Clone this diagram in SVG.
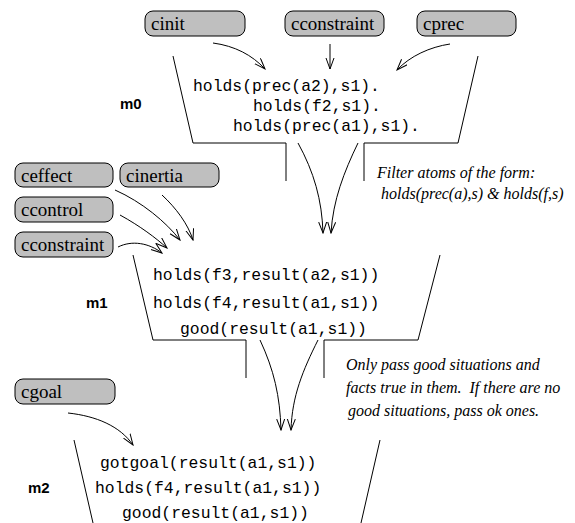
<svg xmlns="http://www.w3.org/2000/svg" width="575" height="523" viewBox="0 0 575 523">
  <defs>
    <marker id="arr" markerUnits="userSpaceOnUse" markerWidth="12" markerHeight="10" refX="11" refY="4.5" orient="auto">
      <path d="M0,0.5 L11,4.5 L0,8.5" fill="none" stroke="#000" stroke-width="1"/>
    </marker>
    <style>
      .box { fill: #bfbfbf; stroke: #000; stroke-width: 1; }
      .lbl { font-family: "Liberation Serif", "Times New Roman", serif; font-size: 19px; fill: #000; }
      .code { font-family: "Liberation Mono", "Courier New", monospace; font-size: 16.4px; fill: #000; }
      .mod { font-family: "Liberation Sans", Arial, sans-serif; font-size: 15px; font-weight: bold; fill: #000; }
      .note { font-family: "Liberation Serif", "Times New Roman", serif; font-size: 16px; font-style: italic; fill: #000; }
      .edge { fill: none; stroke: #000; stroke-width: 1; marker-end: url(#arr); }
      .wall { fill: none; stroke: #000; stroke-width: 1; }
    </style>
  </defs>

  <!-- constraint boxes -->
  <g id="cinit"><rect class="box" x="145" y="11" width="100" height="25" rx="8"/><text class="lbl" x="151" y="30">cinit</text></g>
  <g id="cconstraint0"><rect class="box" x="285" y="11" width="99" height="25" rx="8"/><text class="lbl" x="291" y="30">cconstraint</text></g>
  <g id="cprec"><rect class="box" x="417" y="11" width="99" height="25" rx="8"/><text class="lbl" x="423" y="30">cprec</text></g>

  <g id="ceffect"><rect class="box" x="15" y="163" width="98" height="24" rx="8"/><text class="lbl" x="21" y="182">ceffect</text></g>
  <g id="cinertia"><rect class="box" x="120" y="163" width="99" height="24" rx="8"/><text class="lbl" x="126" y="182">cinertia</text></g>
  <g id="ccontrol"><rect class="box" x="15" y="197" width="98" height="25" rx="8"/><text class="lbl" x="21" y="216">ccontrol</text></g>
  <g id="cconstraint1"><rect class="box" x="15" y="232" width="98" height="25" rx="8"/><text class="lbl" x="21" y="251">cconstraint</text></g>

  <g id="cgoal"><rect class="box" x="15" y="379" width="100" height="25" rx="8"/><text class="lbl" x="21" y="398">cgoal</text></g>

  <!-- module m0 -->
  <g id="m0">
    <polyline class="wall" points="173,56 193,143 286,143 286,181"/>
    <polyline class="wall" points="364,181 364,143 458,143 478,56"/>
    <text class="mod" x="120" y="109">m0</text>
    <text class="code" x="193" y="91">holds(prec(a2),s1).</text>
    <text class="code" x="253" y="111">holds(f2,s1).</text>
    <text class="code" x="233" y="131">holds(prec(a1),s1).</text>
  </g>

  <!-- module m1 -->
  <g id="m1">
    <polyline class="wall" points="133,255 153,340 246,340 246,378"/>
    <polyline class="wall" points="324,378 324,340 418,340 440,255"/>
    <text class="mod" x="86" y="308">m1</text>
    <text class="code" x="153" y="280">holds(f3,result(a2,s1))</text>
    <text class="code" x="153" y="308">holds(f4,result(a1,s1))</text>
    <text class="code" x="180" y="334">good(result(a1,s1))</text>
  </g>

  <!-- module m2 -->
  <g id="m2">
    <line class="wall" x1="74" y1="440" x2="93" y2="523"/>
    <line class="wall" x1="380" y1="440" x2="361" y2="523"/>
    <text class="mod" x="28" y="493">m2</text>
    <text class="code" x="100" y="468">gotgoal(result(a1,s1))</text>
    <text class="code" x="95" y="493">holds(f4,result(a1,s1))</text>
    <text class="code" x="122" y="518">good(result(a1,s1))</text>
  </g>

  <!-- filter notes -->
  <g id="note0">
    <text class="note" x="377" y="178">Filter atoms of the form:</text>
    <text class="note" x="381" y="199">holds(prec(a),s) &amp; holds(f,s)</text>
  </g>
  <g id="note1">
    <text class="note" x="346" y="370">Only pass good situations and</text>
    <text class="note" x="346" y="393" xml:space="preserve">facts true in them.  If there are no</text>
    <text class="note" x="348" y="416">good situations, pass ok ones.</text>
  </g>

  <!-- connectors -->
  <g id="connectors">
    <path class="edge" d="M213,43 C235,46 252,55 265,69"/>
    <path class="edge" d="M330,44 L330,69"/>
    <path class="edge" d="M450,44 C430,47 410,56 397,70"/>

    <path class="edge" d="M298,143 C314,172 322,200 323,233"/>
    <path class="edge" d="M358,143 C344,172 333,200 331,233"/>

    <path class="edge" d="M115,190 C142,202 166,222 180,240"/>
    <path class="edge" d="M162,195 C176,208 188,224 193,240"/>
    <path class="edge" d="M120,215 C140,226 156,238 167,248"/>
    <path class="edge" d="M118,247 C132,240 149,243 162,253"/>

    <path class="edge" d="M260,340 C274,370 280,396 281,430"/>
    <path class="edge" d="M318,340 C303,370 292,396 291,430"/>

    <path class="edge" d="M68,413 C96,416 120,426 133,445"/>
  </g>
</svg>
